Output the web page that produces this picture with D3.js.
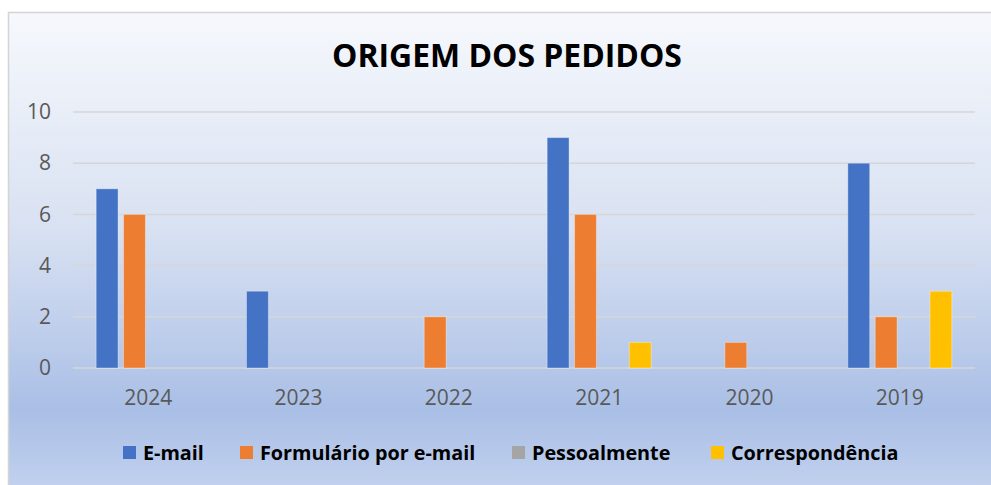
<!DOCTYPE html>
<html>
<head>
<meta charset="utf-8">
<script src="https://cdn.jsdelivr.net/npm/d3@7"></script>
<style>
  html, body { margin: 0; padding: 0; background: #fff; }
  svg { display: block; }
</style>
</head>
<body>
<svg id="chart"></svg>
<script>
// data
const years = ['2024', '2023', '2022', '2021', '2020', '2019']
const seriesNames = ['E-mail', 'Formulário por e-mail', 'Pessoalmente', 'Correspondência']
const email = [7, 3, 0, 9, 0, 8]
const formulario = [6, 0, 2, 6, 1, 2]
const pessoalmente = [0, 0, 0, 0, 0, 0]
const correspondencia = [0, 0, 0, 1, 0, 3]
const yTicks = [0, 2, 4, 6, 8, 10]
const colors = ['#4472C4', '#ED7D31', '#A5A5A5', '#FFC000']

const seriesValues = [email, formulario, pessoalmente, correspondencia]
const rows = years.map((y, i) => ({
  year: y,
  values: seriesNames.map((s, j) => ({ key: s, value: seriesValues[j][i], color: colors[j] }))
}))

let width = 991
let height = 485
let svg = d3.select('#chart').attr('width', width).attr('height', height)

// background with gradient
let defs = svg.append('defs')
let grad = defs.append('linearGradient')
  .attr('id', 'bg')
  .attr('x1', 0).attr('y1', 0).attr('x2', 0).attr('y2', 1)
grad.append('stop').attr('offset', '0%').attr('stop-color', '#f6f8fc')
grad.append('stop').attr('offset', '45%').attr('stop-color', '#d8e1f2')
grad.append('stop').attr('offset', '82%').attr('stop-color', '#aabfe6')
grad.append('stop').attr('offset', '100%').attr('stop-color', '#c4d3ef')

svg.append('rect')
  .attr('x', 8.5).attr('y', 12.5)
  .attr('width', width).attr('height', height)
  .attr('fill', 'url(#bg)')
  .attr('stroke', '#d4d4d4')
  .attr('stroke-width', 1.5)

// scales
let x0 = d3.scaleBand()
  .domain(years)
  .range([73, 975])
  .paddingInner(0.308)
  .paddingOuter(0.154)

let x1 = d3.scaleBand()
  .domain(seriesNames)
  .range([0, x0.bandwidth()])
  .paddingInner(0.2)

let y = d3.scaleLinear()
  .domain([0, 10])
  .range([368, 112])

// gridlines
svg.append('g')
  .selectAll('line')
  .data(yTicks)
  .enter()
  .append('line')
  .attr('x1', 73).attr('x2', 975)
  .attr('y1', d => y(d)).attr('y2', d => y(d))
  .attr('stroke', '#d6d6d6')
  .attr('stroke-width', 1.5)

// y axis labels
let yAxis = svg.append('g')
  .attr('transform', 'translate(51,0)')
  .call(d3.axisLeft(y).tickValues(yTicks).tickSize(0).tickPadding(0))
yAxis.select('.domain').remove()
yAxis.selectAll('text')
  .style('font-family', 'Open Sans')
  .style('font-size', '21px')
  .attr('fill', '#595959')

// x axis labels
let xAxis = svg.append('g')
  .attr('transform', 'translate(0,368)')
  .call(d3.axisBottom(x0).tickSize(0).tickPadding(22))
xAxis.select('.domain').remove()
xAxis.selectAll('text')
  .style('font-family', 'Open Sans')
  .style('font-size', '21px')
  .attr('fill', '#595959')

// bars
let groups = svg.append('g')
  .selectAll('g')
  .data(rows)
  .enter()
  .append('g')
  .attr('transform', d => `translate(${x0(d.year)},0)`)

groups.selectAll('rect')
  .data(d => d.values.filter(v => v.value > 0))
  .enter()
  .append('rect')
  .attr('x', d => x1(d.key))
  .attr('y', d => y(d.value))
  .attr('width', x1.bandwidth())
  .attr('height', d => y(0) - y(d.value))
  .attr('fill', d => d.color)
  .attr('stroke', 'rgba(255,255,255,0.35)')
  .attr('stroke-width', 1)

// title
let title = svg.append('text')
  .attr('x', 507)
  .attr('y', 67)
  .attr('text-anchor', 'middle')
  .style('font-family', 'Open Sans')
  .style('font-weight', 'bold')
  .style('font-size', '30px')
  .attr('fill', '#000')
  .text('ORIGEM DOS PEDIDOS')
// fit title to the width in the picture
let tw = title.node().getComputedTextLength()
title.style('font-size', (30 * 350 / tw) + 'px')

// legend
let legendX = [123, 240, 512, 711]
let legend = svg.append('g')
  .selectAll('g')
  .data(seriesNames)
  .enter()
  .append('g')
  .attr('transform', (d, i) => `translate(${legendX[i]},446)`)

legend.append('rect')
  .attr('width', 13).attr('height', 13)
  .attr('fill', (d, i) => colors[i])

legend.append('text')
  .attr('x', 20)
  .attr('y', 13.5)
  .style('font-family', 'Open Sans')
  .style('font-weight', 'bold')
  .style('font-size', '19.8px')
  .attr('fill', '#000')
  .text(d => d)
</script>
</body>
</html>
